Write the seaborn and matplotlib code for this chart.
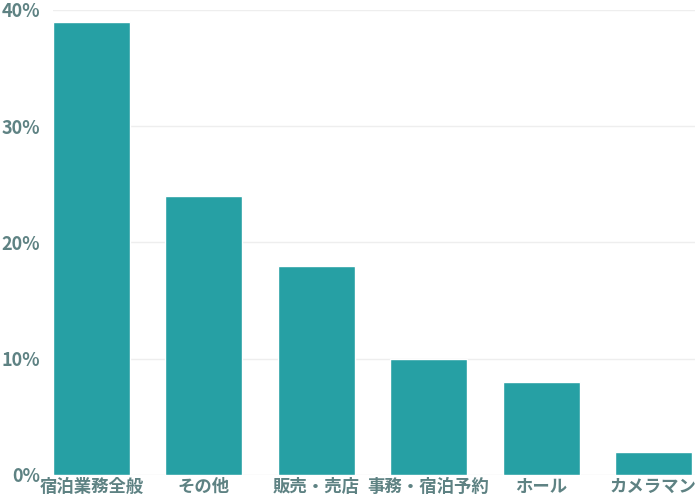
import matplotlib
matplotlib.use("Agg")
from matplotlib import pyplot as plt
import pandas as pd
import seaborn as sns

categories = ["宿泊業務全般", "その他", "販売・売店", "事務・宿泊予約", "ホール", "カメラマン"]
shares = [39, 24, 18, 10, 8, 2]
y_ticks = [0, 10, 20, 30, 40]
y_labels = ["0%", "10%", "20%", "30%", "40%"]

bar_color = "#26A0A4"
text_color = "#5E8283"

sns.set_style("white")
plt.rcParams["font.family"] = ["Noto Sans CJK JP", "DejaVu Sans"]

df = pd.DataFrame({"category": categories, "share": shares})

fig = plt.figure(figsize=(6.95, 5.0), dpi=100)
ax = fig.add_axes([53 / 695, 25 / 500, 642 / 695, 465 / 500])

sns.barplot(data=df, x="category", y="share", color=bar_color, saturation=1,
            width=0.685, ax=ax, zorder=2)

ax.set_ylim(0, 40)
ax.set_xlim(-0.3425, 5.37)
ax.set_yticks(y_ticks)
ax.set_yticklabels(y_labels)
ax.yaxis.grid(True, color="#eeeeee", linewidth=1, zorder=0)
ax.set_axisbelow(True)
for s in ax.spines.values():
    s.set_visible(False)
ax.set_xlabel("")
ax.set_ylabel("")
ax.tick_params(axis="both", length=0, colors=text_color)
ax.tick_params(axis="y", pad=9, labelsize=13)
ax.tick_params(axis="x", pad=2, labelsize=12.5)
for lab in ax.get_xticklabels() + ax.get_yticklabels():
    lab.set_fontweight("bold")
    lab.set_color(text_color)

fig.savefig("out.png", dpi=100)
